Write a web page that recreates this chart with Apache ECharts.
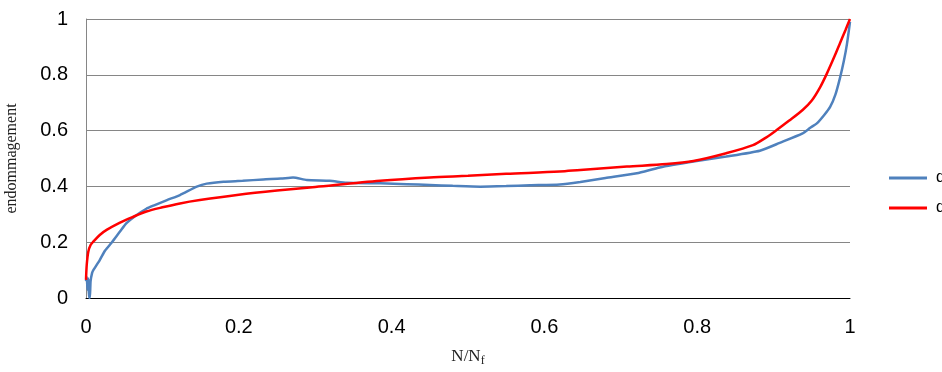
<!DOCTYPE html>
<html><head><meta charset="utf-8">
<script src="https://cdn.jsdelivr.net/npm/echarts@6/dist/echarts.min.js"></script>
<style>html,body{margin:0;padding:0;background:#fff}#c{width:942px;height:372px}</style>
</head><body><div id="c"></div>
<script>
// N/Nf values and damage for the blue (measured) curve
const blueX = [0,0.001,0.002,0.003,0.004,0.005,0.006,0.008,0.0096,0.018,0.025,0.034,0.045,0.053,0.065,0.079,0.09,0.106,0.123,0.145,0.158,0.18,0.205,0.232,0.255,0.271,0.289,0.319,0.341,0.385,0.42,0.45,0.48,0.516,0.55,0.581,0.62,0.647,0.68,0.721,0.751,0.795,0.838,0.882,0.908,0.938,0.948,0.957,0.966,0.974,0.981,0.987,0.992,0.996,1.0];
const blueY = [0.06,0.075,0.03,0.07,0.0,0.0,0.06,0.09,0.10,0.136,0.17,0.2,0.24,0.268,0.295,0.32,0.333,0.351,0.369,0.399,0.41,0.417,0.42,0.425,0.428,0.432,0.423,0.42,0.413,0.411,0.408,0.405,0.402,0.399,0.401,0.404,0.407,0.416,0.43,0.447,0.468,0.489,0.507,0.528,0.556,0.59,0.61,0.627,0.655,0.685,0.73,0.79,0.85,0.91,0.99];
// red (model) curve
const redX = [0,0.001,0.003,0.006,0.0096,0.018,0.027,0.0445,0.06,0.079,0.1,0.123,0.149,0.2,0.25,0.3,0.385,0.45,0.5,0.55,0.62,0.647,0.708,0.76,0.795,0.838,0.873,0.89,0.904,0.92,0.938,0.95,0.961,0.97,0.98,0.987,0.994,1.0];
const redY = [0.065,0.12,0.166,0.19,0.202,0.226,0.244,0.27,0.289,0.31,0.325,0.339,0.351,0.37,0.385,0.398,0.42,0.432,0.438,0.445,0.453,0.459,0.471,0.48,0.491,0.519,0.548,0.575,0.602,0.635,0.674,0.708,0.756,0.806,0.868,0.914,0.96,1.0];
const seriesNames = ['d', 'd '];
const xTicks = [0,0.2,0.4,0.6,0.8,1];
const yTicks = [0,0.2,0.4,0.6,0.8,1];

const chart = echarts.init(document.getElementById('c'));
const zip = (a,b) => a.map((v,i)=>[v,b[i]]);
chart.setOption({
  animation:false,
  grid:{left:86,right:92,top:19,bottom:74,containLabel:false,outerBoundsMode:'none'},
  legend:{
    orient:'vertical', left:884, top:165, itemWidth:38, itemHeight:14, itemGap:14,
    icon:'path://M0,0 L38,0 L38,3 L0,3 Z',
    textStyle:{fontFamily:'Liberation Sans',fontSize:16,color:'#000',padding:[0,0,0,4]},
    data:seriesNames
  },
  xAxis:{
    type:'value', min:0, max:1, interval:0.2,
    name:'{a|N/N}{b|f}', nameLocation:'middle', nameGap:48,
    nameTextStyle:{rich:{a:{fontFamily:'Liberation Serif',fontSize:17,color:'#222'},b:{fontFamily:'Liberation Serif',fontSize:12,color:'#222',padding:[9,0,0,0]}}},
    axisLine:{show:true,lineStyle:{color:'#000',width:1}},
    axisTick:{show:false},
    splitLine:{show:false},
    axisLabel:{fontFamily:'Liberation Sans',fontSize:20,color:'#000',margin:19,
      formatter:v=>xTicks.includes(+v.toFixed(2))?String(+v.toFixed(2)):''}
  },
  yAxis:{
    type:'value', min:0, max:1, interval:0.2,
    name:'endommagement', nameLocation:'middle', nameGap:66, nameRotate:90,
    nameTextStyle:{fontFamily:'Liberation Serif',fontSize:16,color:'#222'},
    axisLine:{show:true,lineStyle:{color:'#868686',width:1}},
    axisTick:{show:false},
    splitLine:{show:true,lineStyle:{color:'#868686',width:1}},
    axisLabel:{fontFamily:'Liberation Sans',fontSize:20,color:'#000',margin:18,
      formatter:v=>yTicks.includes(+v.toFixed(2))?String(+v.toFixed(2)):''}
  },
  series:[
    {name:seriesNames[0],type:'line',data:zip(blueX,blueY),showSymbol:false,smooth:0.2,
     lineStyle:{color:'#4F81BD',width:2.5},itemStyle:{color:'#4F81BD'},z:2},
    {name:seriesNames[1],type:'line',data:zip(redX,redY),showSymbol:false,smooth:0.3,
     lineStyle:{color:'#FF0000',width:2.5},itemStyle:{color:'#FF0000'},z:3}
  ]
});
</script></body></html>
